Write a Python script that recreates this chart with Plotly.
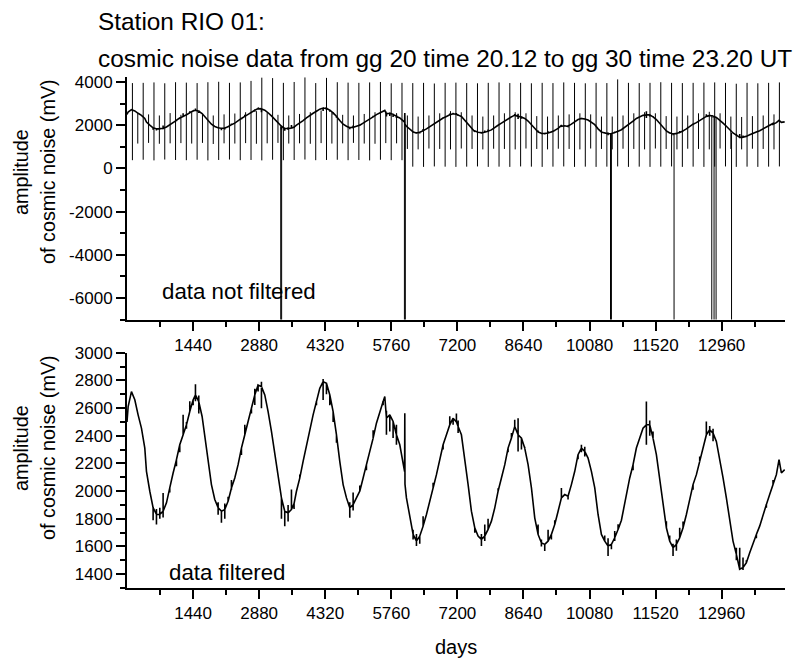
import numpy as np
import plotly.graph_objects as go

# ---------------- data ----------------
# filtered cosmic-noise amplitude (mV) vs time
filt_x = [0, 25, 97, 170, 242, 315, 388, 424, 497, 569, 642, 715, 787, 860, 932, 1005, 1078, 1150,
          1223, 1296, 1368, 1441, 1492, 1564, 1637, 1695, 1768, 1840, 1913, 1986, 2058, 2131, 2203,
          2276, 2349, 2421, 2494, 2567, 2639, 2712, 2785, 2857, 2930, 3003, 3075, 3148, 3220, 3293,
          3366, 3438, 3511, 3584, 3641, 3693, 3766, 3838, 3911, 3984, 4056, 4129, 4201, 4274, 4347,
          4420, 4492, 4565, 4637, 4710, 4783, 4855, 4928, 5000, 5073, 5146, 5218, 5291, 5364, 5436,
          5509, 5582, 5618, 5654, 5727, 5799, 5872, 5945, 6017, 6050, 6054, 6058, 6090, 6163, 6235,
          6308, 6380, 6453, 6526, 6598, 6671, 6744, 6816, 6889, 6962, 7034, 7107, 7179, 7216, 7288,
          7361, 7434, 7506, 7579, 7651, 7724, 7797, 7869, 7942, 8015, 8087, 8160, 8233, 8305, 8378,
          8450, 8523, 8596, 8668, 8741, 8814, 8886, 8959, 9031, 9104, 9177, 9249, 9322, 9395, 9467,
          9540, 9612, 9685, 9758, 9830, 9903, 9976, 10048, 10121, 10194, 10266, 10339, 10411, 10484,
          10557, 10629, 10702, 10775, 10847, 10920, 10956, 11029, 11101, 11174, 11246, 11319, 11392,
          11464, 11537, 11610, 11682, 11755, 11827, 11900, 11973, 12045, 12118, 12191, 12263, 12336,
          12409, 12481, 12554, 12626, 12699, 12772, 12844, 12917, 12990, 13062, 13135, 13207, 13280,
          13353, 13425, 13498, 13571, 13643, 13716, 13788, 13861, 13934, 14006, 14079, 14152, 14210,
          14261, 14333]
filt_y = [2500, 2611, 2719, 2660, 2551, 2455, 2311, 2143, 1999, 1880, 1831, 1831, 1855, 1915, 2023,
          2131, 2227, 2335, 2407, 2479, 2575, 2659, 2695, 2647, 2539, 2407, 2215, 2047, 1939, 1880,
          1855, 1867, 1927, 2023, 2095, 2191, 2311, 2407, 2503, 2599, 2695, 2767, 2755, 2695, 2575,
          2431, 2263, 2095, 1951, 1855, 1843, 1867, 1910, 1999, 2095, 2215, 2335, 2455, 2551, 2647,
          2743, 2791, 2779, 2695, 2575, 2407, 2215, 2047, 1951, 1879, 1903, 1951, 1999, 2095, 2191,
          2287, 2383, 2491, 2575, 2647, 2683, 2527, 2551, 2503, 2407, 2335, 2191, 2140, 2563, 2050,
          1951, 1807, 1687, 1639, 1675, 1747, 1831, 1927, 2023, 2119, 2239, 2335, 2407, 2479, 2527,
          2500, 2467, 2407, 2239, 2047, 1855, 1735, 1675, 1651, 1675, 1723, 1783, 1879, 1999, 2095,
          2191, 2311, 2383, 2467, 2407, 2383, 2311, 2191, 2023, 1807, 1687, 1627, 1615, 1639, 1687,
          1759, 1855, 1951, 1975, 1963, 2047, 2143, 2263, 2311, 2287, 2239, 2143, 2023, 1831, 1687,
          1639, 1603, 1615, 1663, 1723, 1790, 1915, 2040, 2095, 2191, 2311, 2383, 2455, 2479, 2479,
          2383, 2263, 2095, 1903, 1735, 1639, 1591, 1615, 1663, 1735, 1831, 1951, 2047, 2119, 2215,
          2311, 2407, 2443, 2419, 2359, 2239, 2095, 1951, 1783, 1639, 1543, 1435, 1447, 1483, 1555,
          1627, 1687, 1747, 1831, 1903, 1975, 2047, 2119, 2227, 2131, 2155]

# short noise excursions visible on the filtered curve (time, mV)
jit_x = [600, 620, 660, 680, 700, 740, 760, 823, 900, 1100, 1180, 1223, 1260, 1330, 1400, 1460,
         1480, 1514, 1520, 1580, 1600, 1990, 2020, 2058, 2100, 2150, 2170, 2240, 2300, 2460, 2600,
         2700, 2800, 2821, 2880, 2900, 2950, 2966, 3040, 3400, 3460, 3480, 3530, 3560, 3584, 3620,
         3800, 4000, 4160, 4238, 4250, 4300, 4330, 4380, 4420, 4500, 4600, 4710, 4820, 4877, 4900,
         4960, 5037, 5100, 5200, 5400, 5550, 5669, 5690, 5740, 5760, 5799, 5840, 5908, 6200, 6270,
         6293, 6340, 6400, 6420, 6489, 6700, 6900, 7070, 7130, 7150, 7179, 7200, 7250, 7600, 7688,
         7700, 7760, 7820, 7833, 7880, 7900, 8120, 8300, 8400, 8430, 8470, 8487, 8500, 8523, 8550,
         8600, 8640, 8995, 9000, 9060, 9104, 9150, 9210, 9270, 9300, 9500, 9503, 9580, 9800, 9880,
         9903, 9930, 9960, 10010, 10380, 10450, 10500, 10520, 10560, 10600, 10629, 10660, 10690,
         11000, 11200, 11305, 11330, 11350, 11370, 11420, 11430, 11791, 11800, 11870, 11936, 11950,
         12000, 12045, 12070, 12100, 12300, 12500, 12641, 12660, 12680, 12720, 12740, 12790, 12800,
         13250, 13300, 13320, 13370, 13389, 13430, 13450, 13470, 13700, 13900, 14100]
jit_y = [1790, 1759, 1870, 1870, 1800, 1880, 1810, 1987, 1990, 2180, 2280, 2551, 2500, 2450, 2650,
         2620, 2740, 2772, 2650, 2690, 2560, 1830, 1920, 1771, 1800, 1910, 1960, 2010, 2080, 2260,
         2480, 2560, 2740, 2623, 2720, 2790, 2700, 2599, 2600, 1800, 1747, 1900, 1780, 1910, 2011,
         1870, 2120, 2430, 2620, 2659, 2760, 2810, 2700, 2760, 2620, 2500, 2350, 2071, 1920, 1807,
         1860, 1990, 2000, 2040, 2150, 2440, 2620, 2407, 2580, 2430, 2480, 2383, 2480, 2335, 1720,
         1650, 1603, 1690, 1620, 1760, 1819, 2060, 2300, 2540, 2480, 2560, 2551, 2510, 2420, 1700,
         1603, 1640, 1690, 1640, 1759, 1760, 1800, 2020, 2280, 2420, 2510, 2515, 2287, 2440, 2527,
         2360, 2300, 2320, 1759, 1650, 1600, 1567, 1660, 1720, 1650, 1790, 1990, 2023, 1940, 2230,
         2330, 2335, 2280, 2320, 2250, 1680, 1660, 1640, 1531, 1580, 1640, 1711, 1690, 1760,
         2150, 2390, 2647, 2335, 2440, 2510, 2400, 2430, 1783, 1680, 1620, 1531, 1570,
         1650, 1735, 1700, 1780, 2010, 2250, 2503, 2460, 2400, 2470, 2450, 2390, 2360,
         1590, 1500, 1470, 1480, 1591, 1430, 1520, 1500, 1660, 1880, 2080]

# periodic spikes of the unfiltered record: (time, top mV, bottom mV)
tall_spikes = [
    (118, 3950, 380), (353, 3960, 400), (588, 3980, 370), (823, 3940, 410), (1058, 3990, 390),
    (1293, 3970, 380), (1528, 3950, 400), (1763, 3990, 370), (1998, 4010, 390), (2233, 3960, 410),
    (2468, 3980, 380), (2703, 4050, 390), (2938, 4200, 370), (3173, 4180, 400), (3408, 3960, 380),
    (3643, 4000, 390), (3878, 4210, 410), (4113, 3950, 380), (4348, 4190, 390), (4583, 3990, 400),
    (4818, 3970, 380), (5053, 3960, 390), (5288, 3980, 370), (5523, 4000, 400), (5758, 3940, 380),
    (5993, 3960, 380), (6228, 3950, 80), (6463, 3960, 70), (6698, 3930, 90), (6933, 3960, 80),
    (7168, 3970, 70), (7403, 3950, 80), (7638, 3940, 90), (7873, 3960, 70), (8108, 3980, 80),
    (8343, 3950, 70), (8578, 3960, 90), (8813, 3940, 80), (9048, 3960, 70), (9283, 3950, 80),
    (9518, 3980, 90), (9753, 3960, 70), (9988, 3940, 80), (10223, 3960, 70), (10458, 3950, 80),
    (10693, 4120, 90), (10928, 3960, 70), (11163, 3950, 80), (11398, 3960, 70), (11633, 3990, 80),
    (11868, 3960, 90), (12103, 3950, 70), (12338, 3960, 80), (12573, 3970, 70), (12808, 3980, 80),
    (13043, 3960, 90), (13278, 3920, 70), (13513, 3960, 80), (13748, 3940, 70), (13983, 3960, 80),
    (14218, 3980, 90)]
short_spikes = [
    (235, 2550, 1150), (470, 2500, 1180), (705, 2450, 1140), (940, 2560, 1160), (1175, 2480, 1170),
    (1410, 2600, 1150), (1645, 2520, 1180), (1880, 2450, 1130), (2115, 2500, 1160), (2350, 2540, 1150),
    (2585, 2600, 1170), (2820, 2650, 1140), (3055, 2560, 1160), (3290, 2480, 1180), (3525, 2450, 1150),
    (3760, 2520, 1160), (3995, 2600, 1140), (4230, 2680, 1170), (4465, 2600, 1150), (4700, 2480, 1160),
    (4935, 2450, 1180), (5170, 2520, 1150), (5405, 2600, 1140), (5640, 2650, 1170), (5875, 2560, 1160),
    (6110, 2450, 900), (6345, 2400, 880), (6580, 2450, 920), (6815, 2550, 900), (7050, 2650, 880),
    (7285, 2600, 920), (7520, 2450, 900), (7755, 2400, 880), (7990, 2450, 910), (8225, 2550, 900),
    (8460, 2600, 880), (8695, 2550, 920), (8930, 2420, 900), (9165, 2400, 880), (9400, 2450, 910),
    (9635, 2500, 900), (9870, 2550, 880), (10105, 2500, 920), (10340, 2400, 900), (10575, 2400, 880),
    (10810, 2450, 910), (11045, 2550, 900), (11280, 2600, 880), (11515, 2550, 920), (11750, 2420, 900),
    (11985, 2400, 880), (12220, 2450, 910), (12455, 2550, 900), (12690, 2620, 880), (12925, 2550, 920),
    (13160, 2400, 900), (13395, 2380, 880), (13630, 2420, 910), (13865, 2450, 900), (14100, 2500, 880)]
# strong negative drop-outs of the unfiltered record
neg_x = [3350, 3370, 6046, 6066, 10537, 10557, 11922, 12744, 12794, 12838, 13175]
neg_y = [-7600, -7600, -7600, -7600, -7600, -7600, -7600, -7600, -7600, -7600, -7600]

x_ticks = [1440, 2880, 4320, 5760, 7200, 8640, 10080, 11520, 12960]
x_minor = [720, 2160, 3600, 5040, 6480, 7920, 9360, 10800, 12240, 13680]
top_ticks = [-6000, -4000, -2000, 0, 2000, 4000]
top_minor = [-7000, -5000, -3000, -1000, 1000, 3000]
bot_ticks = [1400, 1600, 1800, 2000, 2200, 2400, 2600, 2800, 3000]
bot_minor = [1300, 1500, 1700, 1900, 2100, 2300, 2500, 2700, 2900]

# ---------------- build series ----------------
fx = np.array(filt_x, dtype=float)


def nearest(x):
    return int(np.argmin(np.abs(fx - x)))


# filtered curve: noise excursions drawn as vertical ticks on the nearest reading
ticks_at = {}
for jx, jy in zip(jit_x, jit_y):
    ticks_at.setdefault(nearest(jx), []).append(jy)
bot_x, bot_y = [], []
for i, (gx, gy) in enumerate(zip(filt_x, filt_y)):
    bot_x.append(gx)
    bot_y.append(gy)
    for v in ticks_at.get(i, []):
        bot_x += [gx, gx]
        bot_y += [v, gy]

# unfiltered record spikes: vertical strokes from the curve (separate segments)
sp_x, sp_y = [], []
for sx, top, bot in tall_spikes + short_spikes:
    sp_x += [sx, sx, None]
    sp_y += [top, bot, None]
for nx, ny in zip(neg_x, neg_y):
    sp_x += [nx, nx, None]
    sp_y += [filt_y[nearest(nx)], ny, None]

FONT = "Arial, 'Liberation Sans', sans-serif"
fig = go.Figure()
fig.add_trace(go.Scatter(x=sp_x, y=sp_y, mode="lines", xaxis="x", yaxis="y", connectgaps=False,
                         line=dict(color="black", width=1), showlegend=False, hoverinfo="skip"))
fig.add_trace(go.Scatter(x=bot_x, y=bot_y, mode="lines", xaxis="x", yaxis="y",
                         line=dict(color="black", width=1.6), showlegend=False, hoverinfo="skip"))
fig.add_trace(go.Scatter(x=bot_x, y=bot_y, mode="lines", xaxis="x2", yaxis="y2",
                         line=dict(color="black", width=1.6), showlegend=False, hoverinfo="skip"))


def xax(anchor):
    return dict(domain=[0, 1], anchor=anchor, range=[0, 14340], tickmode="array", tickvals=x_ticks,
                ticktext=[str(v) for v in x_ticks], ticks="outside", ticklen=9, tickwidth=1.5,
                tickcolor="black", showline=True, linewidth=2, linecolor="black", showgrid=False,
                zeroline=False, tickfont=dict(size=17, color="black", family=FONT),
                minor=dict(tickmode="array", tickvals=x_minor, ticks="outside", ticklen=5,
                           tickwidth=1.5, tickcolor="black", showgrid=False))


def yax(anchor, dom, rng, tv, mv):
    return dict(domain=dom, anchor=anchor, range=rng, tickmode="array", tickvals=tv,
                ticktext=[str(v) for v in tv], ticks="outside", ticklen=9, tickwidth=1.5,
                tickcolor="black", showline=True, linewidth=2, linecolor="black", showgrid=False,
                zeroline=False, tickfont=dict(size=17, color="black", family=FONT),
                minor=dict(tickmode="array", tickvals=mv, ticks="outside", ticklen=5,
                           tickwidth=1.5, tickcolor="black", showgrid=False))


W, H = 806, 659
L, R, T, B = 127, 21, 77, 71
PH = H - T - B
PW = W - L - R


def py(px):
    return (H - B - px) / PH


def pxx(px):
    return (px - L) / PW


fig.update_layout(
    width=W, height=H, margin=dict(l=L, r=R, t=T, b=B),
    paper_bgcolor="white", plot_bgcolor="white",
    font=dict(family=FONT, color="black"),
    xaxis=xax("y"),
    yaxis=yax("x", [py(319.6), 1], [-7000, 4231], top_ticks, top_minor),
    xaxis2=xax("y2"),
    yaxis2=yax("x2", [0, py(352.7)], [1300, 3000], bot_ticks, bot_minor),
)

ann = []
ann.append(dict(text="Station RIO 01:", x=pxx(96), y=py(21), xref="paper", yref="paper",
                xanchor="left", yanchor="middle", showarrow=False, font=dict(size=24.4)))
ann.append(dict(text="cosmic noise data from gg 20 time 20.12 to gg 30 time 23.20 UT", x=pxx(96),
                y=py(59), xref="paper", yref="paper", xanchor="left", yanchor="middle",
                showarrow=False, font=dict(size=24.4)))
for cy in (172, 448):
    ann.append(dict(text="amplitude", x=pxx(21), y=py(cy), xref="paper", yref="paper",
                    xanchor="center", yanchor="middle", textangle=-90, showarrow=False,
                    font=dict(size=19.8)))
    ann.append(dict(text="of cosmic noise (mV)", x=pxx(48), y=py(cy), xref="paper", yref="paper",
                    xanchor="center", yanchor="middle", textangle=-90, showarrow=False,
                    font=dict(size=19.8)))
ann.append(dict(text="days", x=pxx(456), y=py(647), xref="paper", yref="paper",
                xanchor="center", yanchor="middle", showarrow=False, font=dict(size=20)))
ann.append(dict(text="data not filtered", x=715, y=-5676, xref="x", yref="y",
                xanchor="left", yanchor="middle", showarrow=False, font=dict(size=22.3)))
ann.append(dict(text="data filtered", x=861, y=1410, xref="x2", yref="y2",
                xanchor="left", yanchor="middle", showarrow=False, font=dict(size=22.3)))
fig.update_layout(annotations=ann)

fig.write_html("out.html", config={"displayModeBar": False},
               post_script="document.body.style.margin='0';document.body.style.padding='0';")
